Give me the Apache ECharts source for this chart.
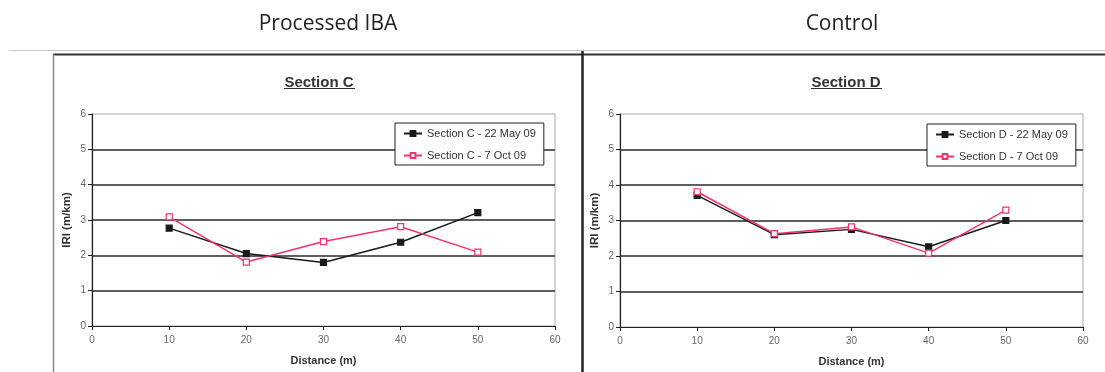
<!DOCTYPE html>
<html>
<head>
<meta charset="utf-8">
<script src="https://cdn.jsdelivr.net/npm/echarts@6/dist/echarts.min.js"></script>
<style>
html,body{margin:0;padding:0;background:#fff;}
#c{width:1105px;height:372px;}
</style>
</head>
<body>
<div id="c"></div>
<script>
const distances = [10, 20, 30, 40, 50];
const xTicks = [0, 10, 20, 30, 40, 50, 60];
const yTicks = [0, 1, 2, 3, 4, 5, 6];
const panelTitles = ['Processed IBA', 'Control'];
const chartTitles = ['Section C', 'Section D'];
const seriesNamesC = ['Section C - 22 May 09', 'Section C - 7 Oct 09'];
const seriesNamesD = ['Section D - 22 May 09', 'Section D - 7 Oct 09'];
const sectionC_May = [2.77, 2.05, 1.8, 2.37, 3.21];
const sectionC_Oct = [3.09, 1.81, 2.39, 2.81, 2.09];
const sectionD_May = [3.71, 2.6, 2.75, 2.26, 3.0];
const sectionD_Oct = [3.81, 2.63, 2.82, 2.08, 3.29];

const BLACK = '#1a1a1a';
const RED = '#f2336b';
const pair = (xs, ys) => xs.map((x, i) => [x, ys[i]]);

function xAxis(gi) {
  return {
    type: 'value', gridIndex: gi, min: xTicks[0], max: xTicks[xTicks.length - 1], interval: 10,
    name: 'Distance (m)', nameLocation: 'middle', nameGap: 29,
    nameTextStyle: {fontFamily: 'Liberation Sans', fontSize: 11, fontWeight: 'bold', color: '#333'},
    axisLine: {show: true, lineStyle: {color: '#222', width: 1.2}},
    axisTick: {show: true, length: 4, lineStyle: {color: '#222'}},
    axisLabel: {fontFamily: 'Liberation Sans', fontSize: 10, color: '#666', margin: 9},
    splitLine: {show: false}
  };
}
function yAxis(gi) {
  return {
    type: 'value', gridIndex: gi, min: yTicks[0], max: yTicks[yTicks.length - 1], interval: 1,
    name: 'IRI (m/km)', nameLocation: 'middle', nameGap: 19, nameRotate: 90,
    nameTextStyle: {fontFamily: 'Liberation Sans', fontSize: 11.5, fontWeight: 'bold', color: '#333'},
    axisLine: {show: true, lineStyle: {color: '#222', width: 1.2}},
    axisTick: {show: true, length: 4, lineStyle: {color: '#222'}},
    axisLabel: {fontFamily: 'Liberation Sans', fontSize: 10, color: '#666', margin: 6},
    splitLine: {show: true, showMinLine: false, showMaxLine: false, lineStyle: {color: '#2a2a2a', width: 1.6}}
  };
}
function series(name, data, gi, color, filled) {
  return {
    type: 'line', name: name, xAxisIndex: gi, yAxisIndex: gi,
    data: data, symbol: 'rect', symbolSize: 6,
    lineStyle: {color: color, width: 1.5},
    itemStyle: {color: filled ? color : '#fff', borderColor: color, borderWidth: 1.2},
    z: filled ? 3 : 4, animation: false
  };
}
function legend(names, left, top) {
  return {
    data: names, left: left, top: top, orient: 'vertical',
    itemWidth: 18, itemHeight: 6, itemGap: 11,
    borderColor: '#222', borderWidth: 1, padding: [5, 8, 4, 8],
    backgroundColor: '#fff',
    textStyle: {fontFamily: 'Liberation Sans', fontSize: 11, color: '#333'}
  };
}

const chart = echarts.init(document.getElementById('c'), null, {renderer: 'canvas'});
chart.setOption({
  backgroundColor: '#fff',
  animation: false,
  grid: [
    {left: 92, right: 550, top: 114, bottom: 46, show: true, borderColor: '#aaa', borderWidth: 1, backgroundColor: 'transparent'},
    {left: 620, right: 22, top: 114, bottom: 45, show: true, borderColor: '#aaa', borderWidth: 1, backgroundColor: 'transparent'}
  ],
  xAxis: [xAxis(0), xAxis(1)],
  yAxis: [yAxis(0), yAxis(1)],
  legend: [legend(seriesNamesC, 395, 123), legend(seriesNamesD, 927, 124)],
  title: [
    {text: panelTitles[0], left: 323, top: 9, textAlign: 'center', textStyle: {fontFamily: 'Open Sans', fontSize: 21, fontWeight: 'normal', color: '#222'}},
    {text: panelTitles[1], left: 837, top: 9, textAlign: 'center', textStyle: {fontFamily: 'Open Sans', fontSize: 21, fontWeight: 'normal', color: '#222'}},
    {text: chartTitles[0], left: 314, top: 70, textAlign: 'center', textStyle: {fontFamily: 'Liberation Sans', fontSize: 15, fontWeight: 'bold', color: '#333'}},
    {text: chartTitles[1], left: 841, top: 70, textAlign: 'center', textStyle: {fontFamily: 'Liberation Sans', fontSize: 15, fontWeight: 'bold', color: '#333'}}
  ],
  graphic: [
    {type: 'line', shape: {x1: 9, y1: 50.5, x2: 1105, y2: 50.5}, style: {stroke: '#c8c8c8', lineWidth: 1}},
    {type: 'line', shape: {x1: 53, y1: 54.5, x2: 1105, y2: 54.5}, style: {stroke: '#333', lineWidth: 2}},
    {type: 'line', shape: {x1: 53.5, y1: 54, x2: 53.5, y2: 372}, style: {stroke: '#888', lineWidth: 1.5}},
    {type: 'line', shape: {x1: 582.5, y1: 51, x2: 582.5, y2: 372}, style: {stroke: '#222', lineWidth: 2.5}},
    {type: 'line', shape: {x1: 284, y1: 88.5, x2: 355, y2: 88.5}, style: {stroke: '#333', lineWidth: 1}},
    {type: 'line', shape: {x1: 811, y1: 88.5, x2: 882, y2: 88.5}, style: {stroke: '#333', lineWidth: 1}}
  ],
  series: [
    series(seriesNamesC[0], pair(distances, sectionC_May), 0, BLACK, true),
    series(seriesNamesC[1], pair(distances, sectionC_Oct), 0, RED, false),
    series(seriesNamesD[0], pair(distances, sectionD_May), 1, BLACK, true),
    series(seriesNamesD[1], pair(distances, sectionD_Oct), 1, RED, false)
  ]
});
</script>
</body>
</html>
